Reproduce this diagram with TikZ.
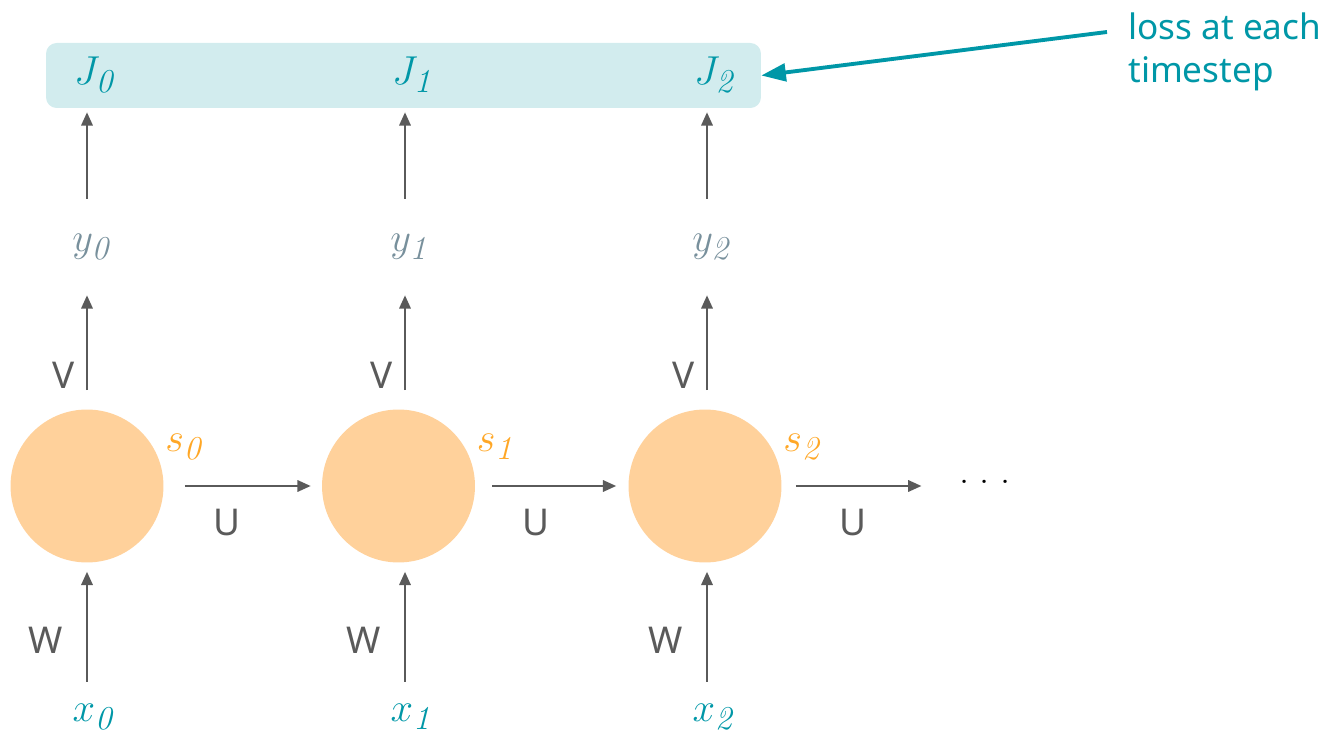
\RequirePackage{fix-cm}
\documentclass[tikz,border=0pt]{standalone}
\usepackage[no-math]{fontspec}
\newfontfamily\labelfont{Noto Sans}
\usetikzlibrary{arrows.meta}
\DeclareMathSizes{23}{23}{19}{15}
\definecolor{lossteal}{RGB}{0,151,167}
\definecolor{lossfill}{RGB}{210,236,238}
\definecolor{cellfill}{RGB}{255,209,155}
\definecolor{stateorange}{RGB}{255,167,38}
\definecolor{outslate}{RGB}{120,144,156}
\definecolor{wiregray}{RGB}{90,90,90}
\tikzset{
    wire/.style={draw=wiregray, line width=1.1pt, -{Triangle[length=7.5pt, width=6.5pt]}},
    weight/.style={text=wiregray, font=\labelfont\fontsize{21}{25}\selectfont, inner sep=0pt},
    symbol/.style={font=\fontsize{23}{28}\selectfont, inner sep=0pt}
}
\begin{document}
\begin{tikzpicture}[x=0.02cm, y=-0.02cm]
    \useasboundingbox (0,0) rectangle (1332,739);
    % loss strip behind the J nodes
    \node[fill=lossfill, rounded corners=6pt, minimum width=14.3cm, minimum height=1.3cm,
        inner sep=0pt] (lossbox) at (403.5,75.5) {};
    \foreach \index/\cx/\ax in {0/87/87,1/398.5/405,2/705/707} {
        \node[circle, fill=cellfill, minimum size=3.06cm, inner sep=0pt] (cell-\index) at (\cx,486) {};
        \coordinate (col-\index) at (\ax,486);
        \node[symbol, text=stateorange, anchor=south west] at (\cx+78,460) {$s_{\mathit{\index}}$};
        \node[symbol, text=lossteal, minimum height=70*0.02cm] (in-\index) at (\ax+8,717) {$x_{\mathit{\index}}$};
        \node[symbol, text=outslate, minimum height=96*0.02cm] (out-\index) at (\ax+6,247) {$y_{\mathit{\index}}$};
        \node[symbol, text=lossteal, minimum height=74*0.02cm] (loss-\index) at (\ax+9,75) {$J_{\mathit{\index}}$};
        \draw[wire, shorten >=0.18cm] (in-\index.north -| col-\index) -- (cell-\index.south -| col-\index)
            node[weight, anchor=east, pos=0.35, xshift=-0.46cm] {W};
        \draw[wire, shorten <=0.38cm] (cell-\index.north -| col-\index) -- (out-\index.south -| col-\index)
            node[weight, anchor=east, pos=0.3, xshift=-0.22cm] {V};
        \draw[wire] (out-\index.north -| col-\index) -- (loss-\index.south -| col-\index);
    }
    \node[inner sep=0pt, font=\fontsize{23}{28}\selectfont] (more) at (985,482) {.\hspace{0.25em}.\hspace{0.25em}.};
    \draw[wire, shorten <=0.42cm, shorten >=0.22cm] (cell-0) -- (cell-1)
        node[weight, below=0.45cm, pos=0.4] {U};
    \draw[wire, shorten <=0.34cm, shorten >=0.24cm] (cell-1) -- (cell-2)
        node[weight, below=0.45cm, pos=0.4] {U};
    \draw[wire, shorten <=0.28cm, shorten >=0.76cm] (cell-2) -- (more.west |- cell-2)
        node[weight, below=0.45cm, pos=0.4] {U};
    % annotation
    \node[anchor=north west, align=left, inner sep=0pt, text=lossteal,
        font=\labelfont\fontsize{20}{24.5}\selectfont] (note) at (1128,12) {loss at each\\timestep};
    \coordinate (note-tail) at (1107,32);
    \draw[lossteal, line width=2.2pt, -{Triangle[length=14pt, width=10pt]}] (note-tail) -- (lossbox.east);
\end{tikzpicture}
\end{document}
